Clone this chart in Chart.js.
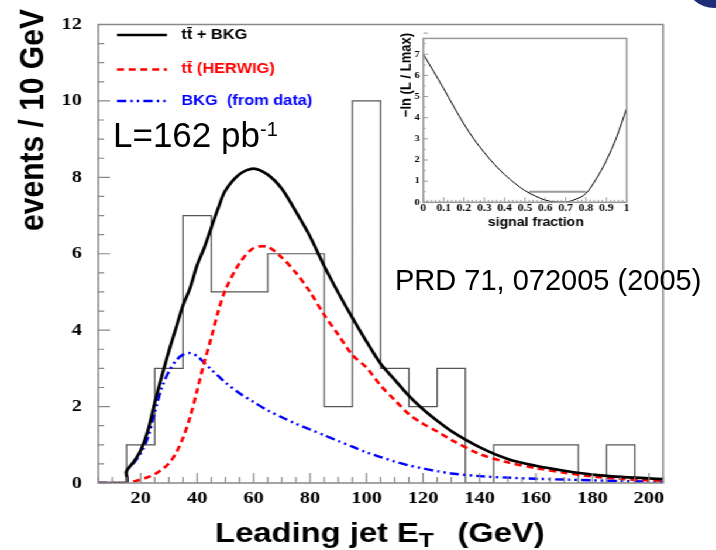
<!DOCTYPE html>
<html>
<head>
<meta charset="utf-8">
<script src="https://cdn.jsdelivr.net/npm/chart.js@4.4.1/dist/chart.umd.min.js"></script>
<style>
body { margin: 0; width: 716px; height: 550px; overflow: hidden; background: #fff; position: relative; font-family: "Liberation Sans", Arial, sans-serif; }
#plotBox { position: absolute; left: 0; top: 0; width: 612px; height: 550px; transform: scaleX(1.17); transform-origin: 0 0; }
#mainChart { position: absolute; left: 0; top: 0; }
#insetChart { position: absolute; left: 337px; top: 30px; }
.note { position: absolute; line-height: 1; white-space: nowrap; color: #000; }
#lumi { left: 113px; top: 117px; font-size: 35px; }
#lumi span { font-size: 20px; position: relative; top: -11px; }
#ref { left: 395px; top: 266px; font-size: 29px; }
#logo { position: absolute; left: 688px; top: -36px; width: 52px; height: 44px; border-radius: 50%; background: #1f2c78; }
</style>
</head>
<body>
<div id="plotBox">
    <canvas id="mainChart" width="612" height="550"></canvas>
    <canvas id="insetChart" width="222" height="205"></canvas>
</div>
<div class="note" id="lumi">L=162 pb<span>-1</span></div>
<div class="note" id="ref">PRD 71, 072005 (2005)</div>
<div id="logo"></div>
<script>
// leading jet E_T (GeV) where the curves are sampled
var jetEt = [5, 10, 15, 15, 17.5, 20, 22.5, 25, 27.5, 30, 32.5, 35, 37.5, 40, 42.5, 45, 47.5, 50,
    55, 60, 65, 70, 75, 80, 85, 90, 95, 100, 105, 110, 115, 120, 125, 130,
    140, 150, 160, 170, 180, 190, 200, 205];
var ttbarPlusBkg = [0, 0, 0, 0.31, 0.55, 0.85, 1.35, 2.1, 2.8, 3.45, 4.05, 4.65, 5.1, 5.7, 6.15, 6.68, 7.2, 7.65,
    8.08, 8.23, 8.07, 7.7, 7.1, 6.45, 5.68, 4.98, 4.32, 3.7, 3.12, 2.7, 2.28, 1.93, 1.63, 1.36,
    0.94, 0.63, 0.45, 0.32, 0.22, 0.16, 0.12, 0.1];
var ttbarHerwig = [0, 0, 0, 0, 0.04, 0.09, 0.15, 0.23, 0.35, 0.51, 0.78, 1.18, 1.72, 2.42, 3.15, 3.8, 4.5, 5.05,
    5.75, 6.15, 6.18, 5.9, 5.5, 5.0, 4.4, 3.88, 3.35, 3.02, 2.55, 2.17, 1.8, 1.55, 1.35, 1.13,
    0.76, 0.54, 0.39, 0.27, 0.17, 0.11, 0.07, 0.06];
var bkgFromData = [0, 0, 0, 0.31, 0.52, 0.77, 1.18, 1.85, 2.5, 2.92, 3.2, 3.36, 3.4, 3.32, 3.15, 2.97, 2.8, 2.63,
    2.35, 2.12, 1.9, 1.72, 1.55, 1.4, 1.25, 1.1, 0.95, 0.8, 0.68, 0.56, 0.46, 0.38, 0.31, 0.25,
    0.18, 0.14, 0.11, 0.09, 0.07, 0.05, 0.04, 0.03];

// data histogram, 10 GeV bins
var binEdges = [5, 15, 25, 35, 45, 55, 65, 75, 85, 95, 105, 115, 125, 135, 145, 155, 165, 175, 185, 195, 205];
var dataCounts = [0, 1, 3, 7, 5, 5, 6, 6, 2, 10, 3, 2, 3, 0, 1, 1, 1, 0, 1, 0];

var xTicks = [20, 40, 60, 80, 100, 120, 140, 160, 180, 200];
var yTicks = [0, 2, 4, 6, 8, 10, 12];

var legendLabels = ["tt\u0304 + BKG", "tt\u0304 (HERWIG)", "BKG  (from data)"];

// inset: likelihood scan
var signalFraction = [0, 0.05, 0.1, 0.15, 0.2, 0.25, 0.3, 0.35, 0.4, 0.45, 0.5,
    0.55, 0.6, 0.65, 0.7, 0.75, 0.8, 0.85, 0.9, 0.95, 1];
var negLogL = [7.0, 6.2, 5.38, 4.52, 3.7, 2.97, 2.35, 1.79, 1.31, 0.9, 0.55,
    0.3, 0.1, 0.02, 0.01, 0.15, 0.42, 1.1, 1.97, 3.07, 4.45];
var intervalFraction = [0.52, 0.80];
var intervalLevel = [0.5, 0.5];
var insetXTicks = [0, 0.1, 0.2, 0.3, 0.4, 0.5, 0.6, 0.7, 0.8, 0.9, 1];
var insetXLabels = ["0", "0.1", "0.2", "0.3", "0.4", "0.5", "0.6", "0.7", "0.8", "0.9", "1"];
var insetYTicks = [0, 1, 2, 3, 4, 5, 6, 7];

var SANS = '"Liberation Sans", Arial, sans-serif';
var SERIF = '"Liberation Serif", "Times New Roman", serif';

function points(xs, ys)
{
    return xs.map(function (x, i) { return {x: x, y: ys[i]}; });
}

function histPoints(edges, counts)
{
    return edges.map(function (e, i) { return {x: e, y: i < counts.length ? counts[i] : 0}; });
}

function isMultiple(v, step)
{
    var r = v / step;
    return Math.abs(r - Math.round(r)) < 1e-6;
}

// frame round the plot and the small ticks pointing inwards (ROOT style)
var frameTicks = {
    id: "frameTicks",
    afterDatasetsDraw: function (chart, args, o) {
        var ctx = chart.ctx, a = chart.chartArea;
        var xs = chart.scales.x, ys = chart.scales.y;
        ctx.save();
        ctx.strokeStyle = o.color;
        ctx.lineWidth = o.tickWidth;
        ctx.beginPath();
        var n = Math.round((xs.max - xs.min) / o.xMinor);
        for (var i = 0; i <= n; i++)
        {
            var v = xs.min + i * o.xMinor;
            var px = xs.getPixelForValue(v);
            var len = isMultiple(v, o.xMajor) ? o.xMajorLen : o.xMinorLen;
            ctx.moveTo(px, a.bottom);
            ctx.lineTo(px, a.bottom - len);
        }
        n = Math.round((ys.max - ys.min) / o.yMinor);
        for (var j = 0; j <= n; j++)
        {
            var w = ys.min + j * o.yMinor;
            var py = ys.getPixelForValue(w);
            var l2 = isMultiple(w, o.yMajor) ? o.yMajorLen : o.yMinorLen;
            ctx.moveTo(a.left, py);
            ctx.lineTo(a.left + l2, py);
        }
        ctx.stroke();
        ctx.lineWidth = o.frameWidth;
        ctx.strokeRect(a.left, a.top, a.right - a.left, a.bottom - a.top);
        ctx.restore();
    }
};

var mainTexts = {
    id: "mainTexts",
    afterDraw: function (chart) {
        var ctx = chart.ctx;
        ctx.save();
        ctx.fillStyle = "#000";

        // y title
        ctx.save();
        ctx.translate(36.8, 120);
        ctx.rotate(-Math.PI / 2);
        ctx.font = "bold 30px " + SANS;
        ctx.textAlign = "center";
        ctx.textBaseline = "alphabetic";
        ctx.fillText("events / 10 GeV", 0, 0);
        ctx.restore();

        // x title
        ctx.textAlign = "left";
        ctx.textBaseline = "alphabetic";
        ctx.font = "bold 28px " + SANS;
        var x = 183.8;
        ctx.fillText("Leading jet E", x, 542);
        x += ctx.measureText("Leading jet E").width;
        ctx.font = "bold 21px " + SANS;
        ctx.fillText("T", x, 547);
        x += ctx.measureText("T").width;
        ctx.font = "bold 28px " + SANS;
        ctx.fillText("(GeV)", x + 20, 542);

        // legend
        var rows = [
            {y: 35, color: "#000000", dash: []},
            {y: 69.5, color: "#ff0000", dash: [6, 4]},
            {y: 101, color: "#0000ff", dash: [8, 3.5, 2, 3.5, 2, 3.5]}
        ];
        ctx.font = "bold 14px " + SANS;
        ctx.textBaseline = "middle";
        rows.forEach(function (r, i) {
            ctx.strokeStyle = r.color;
            ctx.lineWidth = 2.5;
            ctx.setLineDash(r.dash);
            ctx.beginPath();
            ctx.moveTo(100, r.y);
            ctx.lineTo(142.7, r.y);
            ctx.stroke();
            ctx.setLineDash([]);
            ctx.fillStyle = r.color;
            ctx.fillText(legendLabels[i], 155, r.y);
        });
        ctx.restore();
    }
};

var insetTexts = {
    id: "insetTexts",
    afterDraw: function (chart) {
        var ctx = chart.ctx;
        ctx.save();
        ctx.fillStyle = "#000";
        ctx.save();
        ctx.translate(13.5, 3);
        ctx.rotate(-Math.PI / 2);
        ctx.font = "bold 13px " + SANS;
        ctx.textAlign = "right";
        ctx.textBaseline = "alphabetic";
        ctx.fillText("\u2212ln (L / Lmax)", 0, 0);
        ctx.restore();
        ctx.font = "bold 12px " + SANS;
        ctx.textAlign = "center";
        ctx.fillText("signal fraction", 121, 196);
        ctx.restore();
    }
};

var mainChart = new Chart(document.getElementById("mainChart"), {
    type: "line",
    data: {
        datasets: [
            {
                label: legendLabels[0],
                data: points(jetEt, ttbarPlusBkg),
                borderColor: "#000000",
                borderWidth: 2.7,
                tension: 0.3,
                order: 1
            },
            {
                label: legendLabels[1],
                data: points(jetEt, ttbarHerwig),
                borderColor: "#ff0000",
                borderWidth: 2.6,
                borderDash: [6, 4],
                tension: 0.3,
                order: 2
            },
            {
                label: legendLabels[2],
                data: points(jetEt, bkgFromData),
                borderColor: "#0000ff",
                borderWidth: 2.4,
                borderDash: [8, 3.5, 2, 3.5, 2, 3.5],
                tension: 0.3,
                order: 3
            },
            {
                label: "data",
                data: histPoints(binEdges, dataCounts),
                borderColor: "#555555",
                borderWidth: 1.2,
                stepped: "before",
                order: 4
            }
        ]
    },
    options: {
        responsive: false,
        devicePixelRatio: 1,
        animation: false,
        elements: { point: { radius: 0 } },
        layout: { padding: { left: 0, top: 13, right: 45.3, bottom: 0 } },
        plugins: {
            legend: { display: false },
            tooltip: { enabled: false },
            frameTicks: {
                color: "#888888", tickWidth: 1.2, frameWidth: 1.5,
                xMinor: 5, xMajor: 20, xMajorLen: 10, xMinorLen: 6,
                yMinor: 0.5, yMajor: 2, yMajorLen: 10, yMinorLen: 5
            }
        },
        scales: {
            x: {
                type: "linear",
                min: 5,
                max: 205,
                grid: { display: false, drawTicks: false },
                border: { display: false },
                afterBuildTicks: function (scale) {
                    scale.ticks = xTicks.map(function (v) { return {value: v}; });
                },
                afterFit: function (scale) { scale.height = 67; },
                ticks: {
                    padding: 5,
                    maxRotation: 0,
                    color: "#000",
                    font: { family: SERIF, size: 17.5, weight: "bold" },
                    callback: function (v, i) { return String(xTicks[i]); }
                }
            },
            y: {
                min: 0,
                max: 12,
                grid: { display: false, drawTicks: false },
                border: { display: false },
                afterBuildTicks: function (scale) {
                    scale.ticks = yTicks.map(function (v) { return {value: v}; });
                },
                afterFit: function (scale) { scale.width = 84; },
                ticks: {
                    padding: 14,
                    color: "#000",
                    font: { family: SERIF, size: 17.5, weight: "bold" },
                    callback: function (v, i) { return String(yTicks[i]); }
                }
            }
        }
    },
    plugins: [frameTicks, mainTexts]
});

var insetChart = new Chart(document.getElementById("insetChart"), {
    type: "line",
    data: {
        datasets: [
            {
                data: points(signalFraction, negLogL),
                borderColor: "#000000",
                borderWidth: 1,
                cubicInterpolationMode: "monotone",
                order: 1
            },
            {
                data: points(intervalFraction, intervalLevel),
                borderColor: "#999999",
                borderWidth: 2.2,
                order: 2
            }
        ]
    },
    options: {
        responsive: false,
        devicePixelRatio: 1,
        animation: false,
        elements: { point: { radius: 0 } },
        layout: { padding: { left: 0, top: 8.3, right: 23.4, bottom: 0 } },
        plugins: {
            legend: { display: false },
            tooltip: { enabled: false },
            frameTicks: {
                color: "#999999", tickWidth: 1, frameWidth: 1.5,
                xMinor: 0.02, xMajor: 0.1, xMajorLen: 5, xMinorLen: 2.5,
                yMinor: 0.5, yMajor: 1, yMajorLen: 4, yMinorLen: 2
            }
        },
        scales: {
            x: {
                type: "linear",
                min: 0,
                max: 1,
                grid: { display: false, drawTicks: false },
                border: { display: false },
                afterBuildTicks: function (scale) {
                    scale.ticks = insetXTicks.map(function (v) { return {value: v}; });
                },
                afterFit: function (scale) { scale.height = 32.7; },
                ticks: {
                    padding: 0,
                    maxRotation: 0,
                    autoSkip: false,
                    color: "#000",
                    font: { family: SERIF, size: 10, weight: "bold" },
                    callback: function (v, i) { return insetXLabels[i]; }
                }
            },
            y: {
                min: 0,
                max: 7.75,
                grid: { display: false, drawTicks: false },
                border: { display: false },
                afterBuildTicks: function (scale) {
                    scale.ticks = insetYTicks.map(function (v) { return {value: v}; });
                },
                afterFit: function (scale) { scale.width = 24.8; },
                ticks: {
                    padding: 3,
                    autoSkip: false,
                    color: "#000",
                    font: { family: SERIF, size: 9, weight: "bold" },
                    callback: function (v, i) { return String(insetYTicks[i]); }
                }
            }
        }
    },
    plugins: [frameTicks, insetTexts]
});
</script>
</body>
</html>
